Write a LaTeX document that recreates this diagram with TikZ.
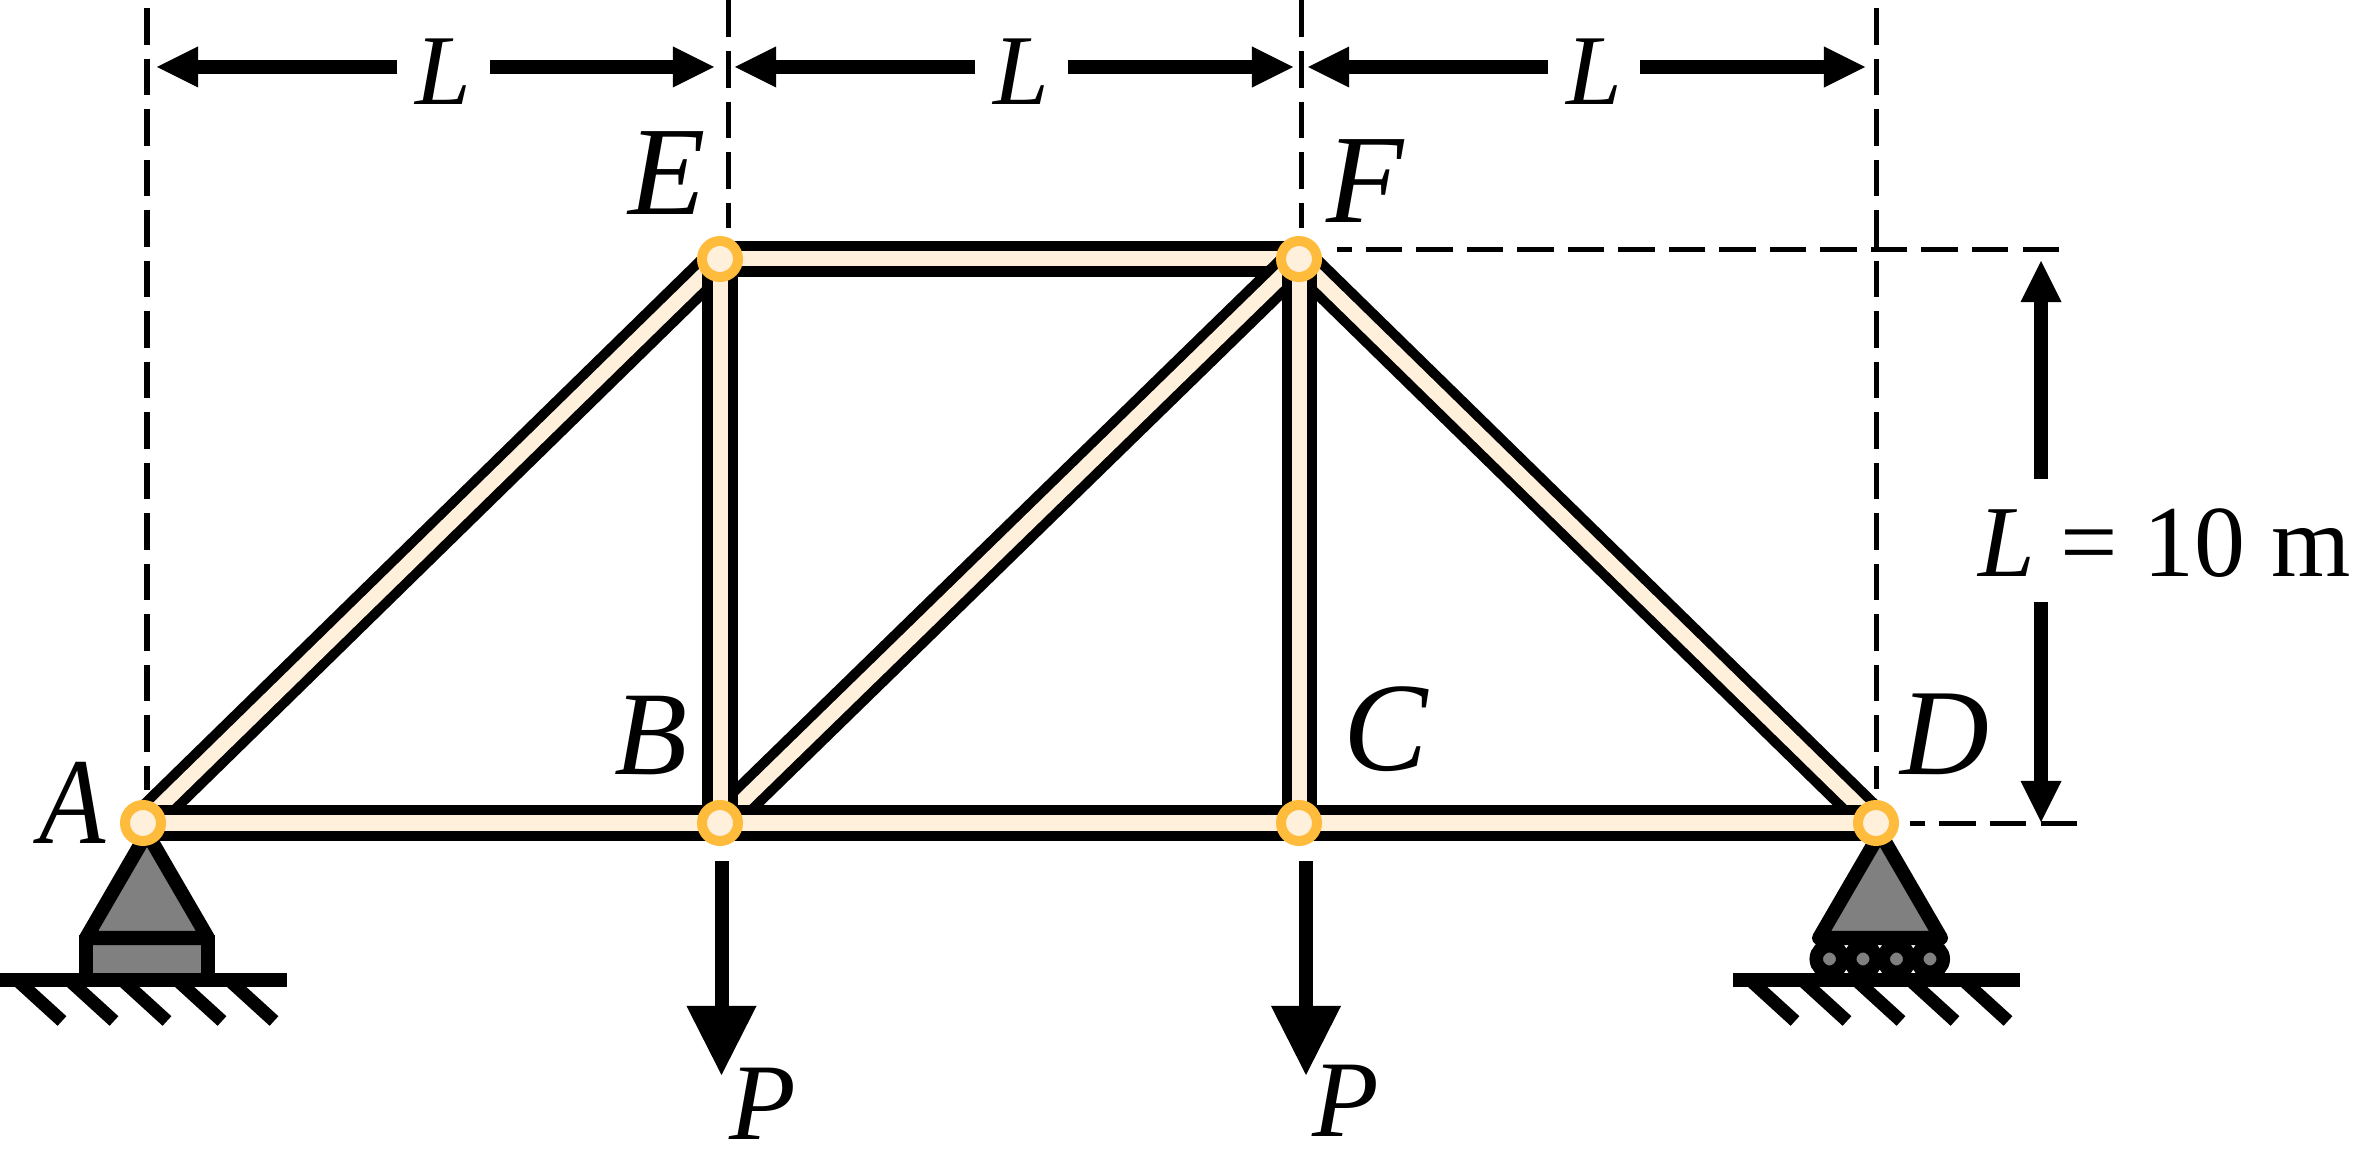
\documentclass[tikz,border=0pt]{standalone}
\usepackage{fontspec}
\setmainfont{Liberation Serif}
\usetikzlibrary{arrows.meta, backgrounds}
\definecolor{memberfill}{HTML}{FFF0DB}
\definecolor{jointring}{HTML}{FFBB3C}
\definecolor{supportfill}{HTML}{808080}
\tikzset{
  joint/.style={circle, draw=jointring, fill=memberfill, line width=0.1cm, minimum size=0.36cm, inner sep=0pt},
  member/.style={draw=black, line width=0.1cm, double=memberfill, double distance=0.15cm},
  guide/.style={line width=0.05cm, dash pattern=on 0.365cm off 0.14cm},
  dimarrow/.style={line width=0.14cm, -{Triangle[length=0.41cm, width=0.41cm, line width=0pt]}},
  loadarrow/.style={line width=0.14cm, -{Triangle[length=0.69cm, width=0.70cm, line width=0pt]}},
  support/.style={draw=black, fill=supportfill, line width=0.14cm},
  ground/.style={line width=0.14cm},
  hatchline/.style={line width=0.13cm},
  roller/.style={circle, draw=black, fill=supportfill, line width=0.135cm, minimum size=0.265cm, inner sep=0pt},
  lbl/.style={font=\fontsize{36}{36}\selectfont\itshape, inner sep=0pt, anchor=base},
  dimlbl/.style={font=\fontsize{28.5}{28.5}\selectfont\itshape, inner sep=0pt, minimum width=0.91cm, text height=0.74cm, text depth=0pt},
}

\begin{document}
\begin{tikzpicture}[x=0.01cm, y=-0.01cm]
\useasboundingbox (0,0) rectangle (2372,1158);

% Joints
\node[joint] (A) at (143,823) {};
\node[joint] (B) at (720,823) {};
\node[joint] (C) at (1299,823) {};
\node[joint] (D) at (1876,823) {};
\node[joint] (E) at (720,259) {};
\node[joint] (F) at (1299,259) {};

\begin{scope}[on background layer]
% Supports
\draw[support] (86,935) -- (86,980) -- (208,980) -- (208,935);
\draw[support, line join=bevel] (147,833) -- (208,938) -- (86,938) -- cycle;
\foreach \x in {1829.5,1863,1896.5,1930}
  \node[roller] (roll\x) at (\x,959) {};
\draw[support, line join=round] (1880,833) -- (1941,938) -- (1819,938) -- cycle;

% Ground
\draw[ground] (0,980) -- (287,980);
\draw[ground] (1733,980) -- (2020,980);
\foreach \x in {17,69,122,177,229,1750,1802,1856,1910,1963}
  \draw[hatchline] (\x,980) -- ++(45,41);

% Members
\foreach \a/\b in {E/F, B/F, F/D, A/E, E/B, F/C, A/B, B/C, C/D}
  \draw[member] (\a.center) -- (\b.center);
\end{scope}

% Guide lines
\foreach \n/\xa/\ya/\xb/\yb in {gA/147/8/147/790, gE/728/0.5/728/228, gF/1301.5/0.5/1301.5/228, gD/1876.5/8/1876.5/789, gH/2059/250/1337/250, gB/2077/823/1910/823} {
  \coordinate (\n s) at (\xa,\ya);
  \coordinate (\n e) at (\xb,\yb);
  \draw[guide] (\n s) -- (\n e);
}

% Span dimensions
\foreach \n/\x/\l/\r in {La/443.5/157/714, Lb/1021.5/735/1293, Lc/1594/1308/1865} {
  \node[dimlbl] (\n) at (\x,67) {L};
  \coordinate (\n l) at (\l,67);
  \coordinate (\n r) at (\r,67);
  \draw[dimarrow] (\n.west) -- (\n l);
  \draw[dimarrow] (\n.east) -- (\n r);
}

% Height dimension
\node[font=\fontsize{29}{29}\selectfont, inner sep=0pt, text height=0.96cm, text depth=0.255cm] (Lval) at (2164.5,540.75) {\textit{L} = 10 m};
\coordinate (Ltop) at (2041,261);
\coordinate (Lbot) at (2041,822);
\draw[dimarrow] (Lval.north -| Ltop) -- (Ltop);
\draw[dimarrow] (Lval.south -| Lbot) -- (Lbot);

% Loads
\coordinate (Pas) at (721.5,861);
\coordinate (Pae) at (721.5,1075);
\coordinate (Pbs) at (1306,861);
\coordinate (Pbe) at (1306,1075);
\draw[loadarrow] (Pas) -- (Pae);
\draw[loadarrow] (Pbs) -- (Pbe);
\node[lbl, font=\fontsize{31}{31}\selectfont\itshape] (Pa) at (763,1139) {P};
\node[lbl, font=\fontsize{31}{31}\selectfont\itshape] (Pb) at (1346,1136) {P};

% Joint labels
\node[lbl, font=\fontsize{35}{35}\selectfont\itshape, xscale=0.88] (labA) at (73,843) {A};
\node[lbl, font=\fontsize{34}{34}\selectfont\itshape] (labB) at (651,774) {B};
\node[lbl] (labC) at (1386,771) {C};
\node[lbl, font=\fontsize{35}{35}\selectfont\itshape] (labD) at (1945,774) {D};
\node[lbl] (labE) at (667,215) {E};
\node[lbl] (labF) at (1365,223) {F};

\end{tikzpicture}
\end{document}
